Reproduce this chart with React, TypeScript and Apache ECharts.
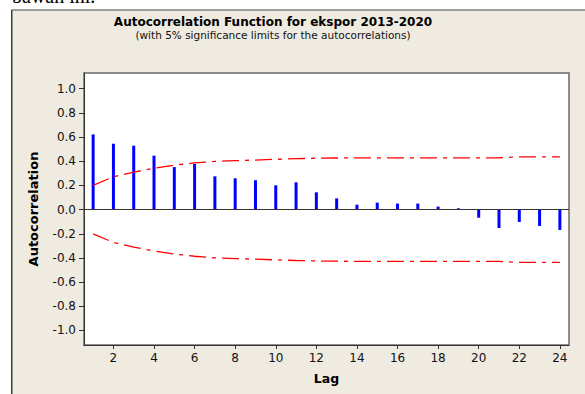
import React, { useEffect, useRef } from "react";
import * as echarts from "echarts";

const lags = [1, 2, 3, 4, 5, 6, 7, 8, 9, 10, 11, 12, 13, 14, 15, 16, 17, 18, 19, 20, 21, 22, 23, 24];
const acf = [0.622, 0.545, 0.529, 0.446, 0.352, 0.377, 0.275, 0.259, 0.242, 0.201, 0.226, 0.143, 0.093, 0.041, 0.058, 0.05, 0.05, 0.025, 0.011, -0.067, -0.152, -0.102, -0.135, -0.168];
const upperLimit = [0.2, 0.272, 0.31, 0.343, 0.367, 0.386, 0.399, 0.405, 0.41, 0.416, 0.421, 0.425, 0.427, 0.428, 0.428, 0.428, 0.428, 0.428, 0.428, 0.428, 0.429, 0.436, 0.437, 0.437];
const lowerLimit = [-0.2, -0.272, -0.31, -0.343, -0.367, -0.386, -0.399, -0.405, -0.41, -0.416, -0.421, -0.425, -0.427, -0.428, -0.428, -0.428, -0.428, -0.428, -0.428, -0.428, -0.429, -0.436, -0.437, -0.437];
const yTicks = [-1.0, -0.8, -0.6, -0.4, -0.2, 0.0, 0.2, 0.4, 0.6, 0.8, 1.0];
const xTicks = [2, 4, 6, 8, 10, 12, 14, 16, 18, 20, 22, 24];

const FONT = "DejaVu Sans";

export default function App() {
  const ref = useRef<HTMLDivElement>(null);
  useEffect(() => {
    const chart = echarts.init(ref.current!, null, { renderer: "svg" });
    chart.setOption({
      animation: false,
      backgroundColor: "#EFEBE0",
      graphic: [
        { type: "rect", shape: { x: 0, y: 0, width: 585, height: 9.5 }, style: { fill: "#ffffff" }, silent: true },
        { type: "rect", shape: { x: 0, y: 0, width: 11.5, height: 394 }, style: { fill: "#ffffff" }, silent: true },
        { type: "line", shape: { x1: 11.5, y1: 10, x2: 585, y2: 10 }, style: { stroke: "#808080", lineWidth: 1.5 }, silent: true },
        { type: "line", shape: { x1: 11.8, y1: 10, x2: 11.8, y2: 394 }, style: { stroke: "#111111", lineWidth: 1.2 }, silent: true },
        {
          type: "text",
          x: 12,
          y: 6,
          style: { text: "bawah ini.", font: "20px 'Liberation Serif'", fill: "#000", textVerticalAlign: "bottom" },
          silent: true,
        },
      ],
      title: {
        text: "Autocorrelation Function for ekspor 2013-2020",
        subtext: "(with 5% significance limits for the autocorrelations)",
        left: 268,
        top: 11,
        textAlign: "center",
        itemGap: 1,
        textStyle: { fontFamily: FONT, fontSize: 12, fontWeight: "bold", color: "#000" },
        subtextStyle: { fontFamily: FONT, fontSize: 10.5, color: "#111" },
      },
      grid: {
        left: 84,
        top: 73,
        width: 485,
        height: 272,
        show: true,
        backgroundColor: "#ffffff",
        borderColor: "#6a6a6a",
        borderWidth: 1.5,
      },
      xAxis: {
        type: "value",
        min: 0.55,
        max: 24.45,
        name: "Lag",
        nameLocation: "middle",
        nameGap: 27,
        nameTextStyle: { fontFamily: FONT, fontSize: 12.5, fontWeight: "bold", color: "#000" },
        axisLine: { onZero: false, lineStyle: { color: "#333", width: 1 } },
        axisTick: { customValues: xTicks, length: 4, lineStyle: { color: "#333" } },
        axisLabel: { customValues: xTicks, fontFamily: FONT, fontSize: 12, color: "#111", margin: 7 },
        splitLine: { show: false },
      },
      yAxis: {
        type: "value",
        min: -1.12,
        max: 1.13,
        name: "Autocorrelation",
        nameLocation: "middle",
        nameGap: 44,
        nameTextStyle: { fontFamily: FONT, fontSize: 13, fontWeight: "bold", color: "#000" },
        axisLine: { show: true, lineStyle: { color: "#333", width: 1 } },
        axisTick: { show: true, customValues: yTicks, length: 5, lineStyle: { color: "#333" } },
        axisLabel: {
          customValues: yTicks,
          fontFamily: FONT,
          fontSize: 12,
          color: "#111",
          margin: 8,
          formatter: (v: number) => v.toFixed(1),
        },
        splitLine: { show: false },
      },
      series: [
        {
          type: "bar",
          data: lags.map((l, i) => [l, acf[i]]),
          barWidth: 3,
          itemStyle: { color: "#0000FF" },
          markLine: {
            silent: true,
            symbol: "none",
            label: { show: false },
            lineStyle: { color: "#333", width: 1, type: "solid" },
            data: [{ yAxis: 0 }],
          },
        },
        {
          type: "line",
          data: lags.map((l, i) => [l, upperLimit[i]]),
          showSymbol: false,
          symbol: "none",
          lineStyle: { color: "#FF0000", width: 1.3, type: [17, 6, 4, 6] },
        },
        {
          type: "line",
          data: lags.map((l, i) => [l, lowerLimit[i]]),
          showSymbol: false,
          symbol: "none",
          lineStyle: { color: "#FF0000", width: 1.3, type: [17, 6, 4, 6] },
        },
      ],
    });
    return () => chart.dispose();
  }, []);
  return (
    <div style={{ position: "fixed", left: 0, top: 0, width: 585, height: 394 }}>
      <div ref={ref} style={{ width: 585, height: 394 }} />
    </div>
  );
}
